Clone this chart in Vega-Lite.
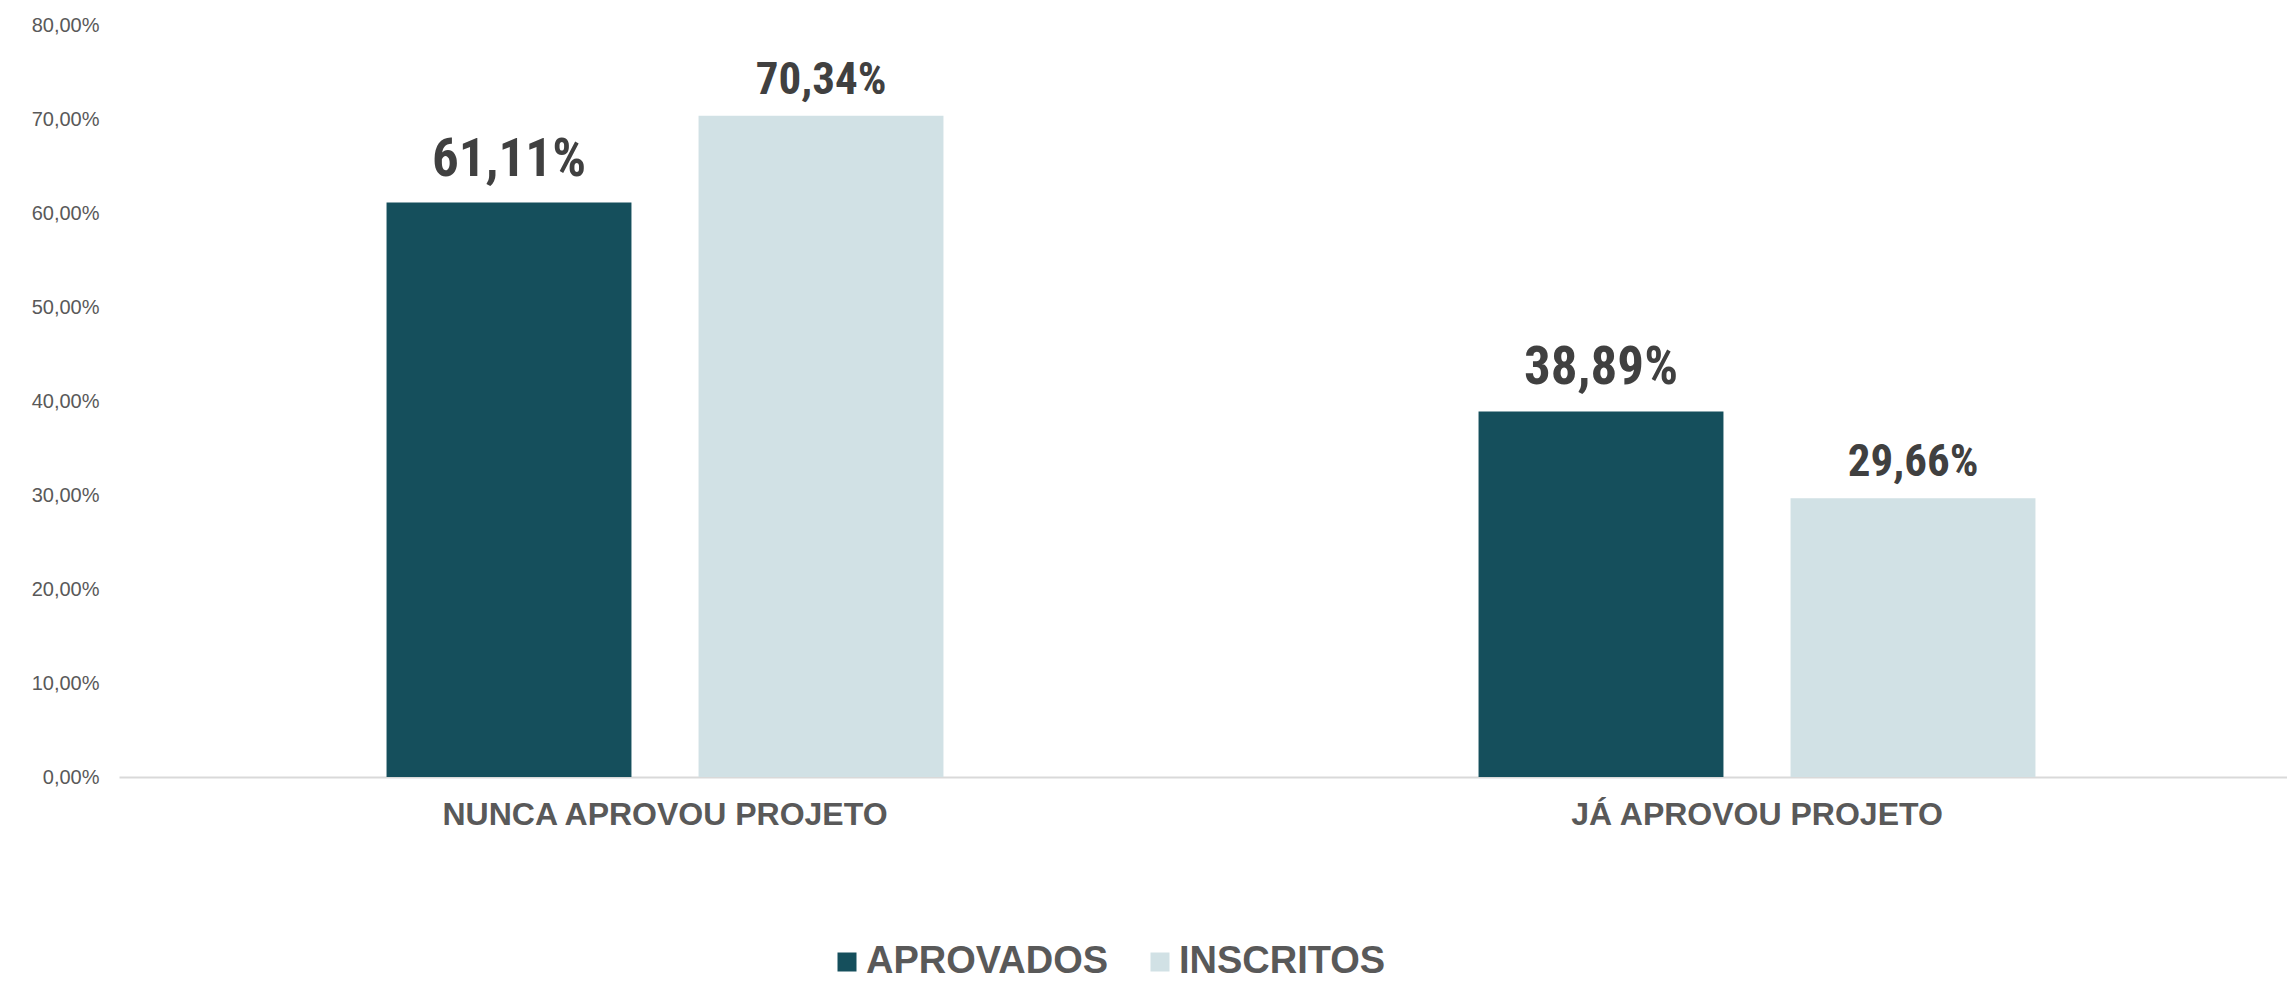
{
  "$schema": "https://vega.github.io/schema/vega-lite/v6.json",
  "width": 2168,
  "height": 752,
  "autosize": {"type": "none"},
  "padding": {"left": 119, "top": 25, "right": 0, "bottom": 206},
  "background": "white",
  "config": {
    "locale": {"number": {"decimal": ",", "thousands": ".", "grouping": [3], "currency": ["R$", ""]}},
    "view": {"stroke": null},
    "font": "Liberation Sans"
  },
  "data": {
    "values": [
      {"categoria": "NUNCA APROVOU PROJETO", "serie": "APROVADOS", "valor": 0.6111},
      {"categoria": "NUNCA APROVOU PROJETO", "serie": "INSCRITOS", "valor": 0.7034},
      {"categoria": "JÁ APROVOU PROJETO", "serie": "APROVADOS", "valor": 0.3889},
      {"categoria": "JÁ APROVOU PROJETO", "serie": "INSCRITOS", "valor": 0.2966}
    ]
  },
  "encoding": {
    "x": {
      "field": "categoria", "type": "nominal", "sort": null, "title": null,
      "scale": {"paddingInner": 0.49, "paddingOuter": 0.245, "range": [0, 2184]},
      "axis": {"labelAngle": 0, "labelFontSize": 32, "labelFontWeight": "bold", "labelColor": "#595959", "labelPadding": 22, "labelLimit": 800, "ticks": false, "domainColor": "#D9D9D9", "domainWidth": 2}
    },
    "xOffset": {"field": "serie", "type": "nominal", "scale": {"paddingInner": 0.215, "paddingOuter": 0}},
    "y": {
      "field": "valor", "type": "quantitative", "title": null,
      "scale": {"domain": [0, 0.8]},
      "axis": {"values": [0, 0.1, 0.2, 0.3, 0.4, 0.5, 0.6, 0.7, 0.8], "format": ".2%", "grid": false, "domain": false, "ticks": false, "labelFontSize": 20, "labelColor": "#595959", "labelPadding": 20}
    }
  },
  "layer": [
    {
      "mark": {"type": "bar"},
      "encoding": {
        "color": {
          "field": "serie", "type": "nominal",
          "scale": {"domain": ["APROVADOS", "INSCRITOS"], "range": ["#154F5C", "#D1E1E5"]},
          "legend": {
            "title": null, "orient": "none", "direction": "horizontal", "legendX": 709, "legendY": 918,
            "symbolType": "square", "symbolSize": 361, "symbolStrokeWidth": 0,
            "labelFontSize": 38, "labelFontWeight": "bold", "labelColor": "#595959",
            "labelOffset": 0, "columnPadding": 32, "labelLimit": 400
          }
        }
      }
    },
    {
      "transform": [{"filter": "datum.serie === 'APROVADOS'"}],
      "mark": {"type": "text", "baseline": "alphabetic", "dy": -27, "font": "Roboto Condensed, Liberation Sans Narrow, Roboto", "fontWeight": "bold", "fontSize": 53, "color": "#404040"},
      "encoding": {
        "text": {"field": "valor", "type": "quantitative", "format": ".2%"}
      }
    },
    {
      "transform": [{"filter": "datum.serie === 'INSCRITOS'"}],
      "mark": {"type": "text", "baseline": "alphabetic", "dy": -22, "font": "Roboto Condensed, Liberation Sans Narrow, Roboto", "fontWeight": "bold", "fontSize": 45, "color": "#404040"},
      "encoding": {
        "text": {"field": "valor", "type": "quantitative", "format": ".2%"}
      }
    }
  ]
}
